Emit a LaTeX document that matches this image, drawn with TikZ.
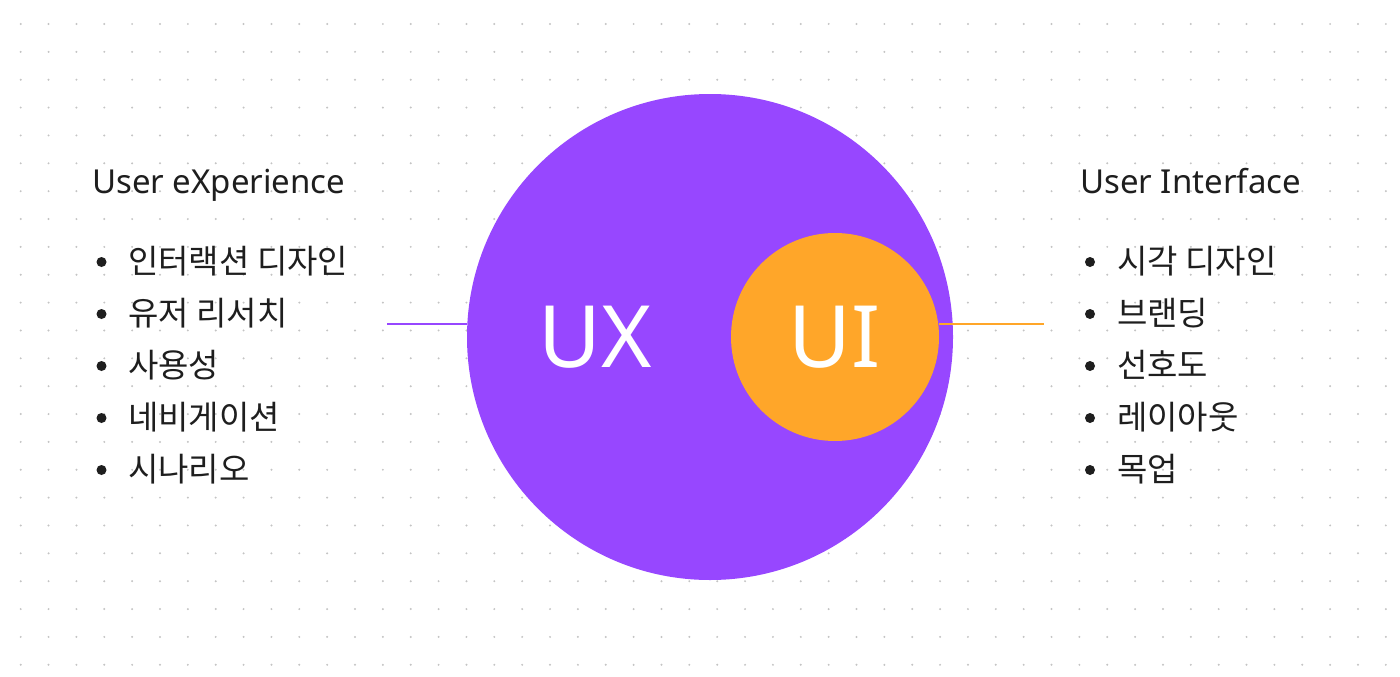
\documentclass[tikz,border=0pt]{standalone}
\usepackage{fontspec}
\setmainfont{Noto Sans}
\newfontfamily\krfont{Noto Sans CJK KR}
\usepackage{xcolor}
\usetikzlibrary{positioning}

\definecolor{uxpurple}{HTML}{9747FF}
\definecolor{uiorange}{HTML}{FFA629}
\definecolor{ink}{HTML}{1E1E1E}
\definecolor{griddot}{HTML}{C4C4C4}

\begin{document}
\begin{tikzpicture}[
    x=1pt, y=-1pt,
    heading/.style={anchor=base west, inner sep=0pt, text=ink, font=\fontsize{33}{40}\selectfont},
    item/.style={anchor=base west, inner sep=0pt, text=ink, font=\krfont\fontsize{33}{40}\selectfont},
    dot/.style={circle, fill=ink, inner sep=0pt, minimum size=10pt},
    bigword/.style={text=white, font=\fontsize{86}{96}\selectfont, inner sep=0pt},
    link/.style={line width=2pt}
]
\useasboundingbox (0,0) rectangle (1400,677);
\fill[white] (0,0) rectangle (1400,677);
% dotted grid
\foreach \i in {0,...,49}
  \foreach \j in {0,...,23}
    \fill[griddot] (20.7+27.86*\i, 24+27.86*\j) circle (1.1pt);

% circles
\node[circle, fill=uxpurple, minimum size=486pt, inner sep=0pt] (ux) at (710,337) {};
\node[circle, fill=uiorange, minimum size=208pt, inner sep=0pt] (ui) at (835,337) {};
\node[bigword] (uxlabel) at (595,337) {UX};
\node[bigword] (uilabel) at (ui.center) {UI};

% connectors
\coordinate (uxend) at (387,324);
\coordinate (uiend) at (1044,324);
\draw[link, uxpurple] (uxend) -- (uxend -| ux.west);
\draw[link, uiorange] (ui.east |- uiend) -- (uiend);

% left list
\node[heading] (uxhead) at (92,193) {User eXperience};
\node[item] (ux1) at (128,273) {인터랙션 디자인};
\node[item] (ux2) at (128,325) {유저 리서치};
\node[item] (ux3) at (128,377) {사용성};
\node[item] (ux4) at (128,429) {네비게이션};
\node[item] (ux5) at (128,481) {시나리오};
\foreach \n in {1,...,5}
  \node[dot] (uxdot\n) at (101.5,210+52*\n) {};

% right list
\node[heading] (uihead) at (1080,193) {User Interface};
\node[item] (ui1) at (1117,273) {시각 디자인};
\node[item] (ui2) at (1117,325) {브랜딩};
\node[item] (ui3) at (1117,377) {선호도};
\node[item] (ui4) at (1117,429) {레이아웃};
\node[item] (ui5) at (1117,481) {목업};
\foreach \n in {1,...,5}
  \node[dot] (uidot\n) at (1090,210+52*\n) {};
\end{tikzpicture}
\end{document}
